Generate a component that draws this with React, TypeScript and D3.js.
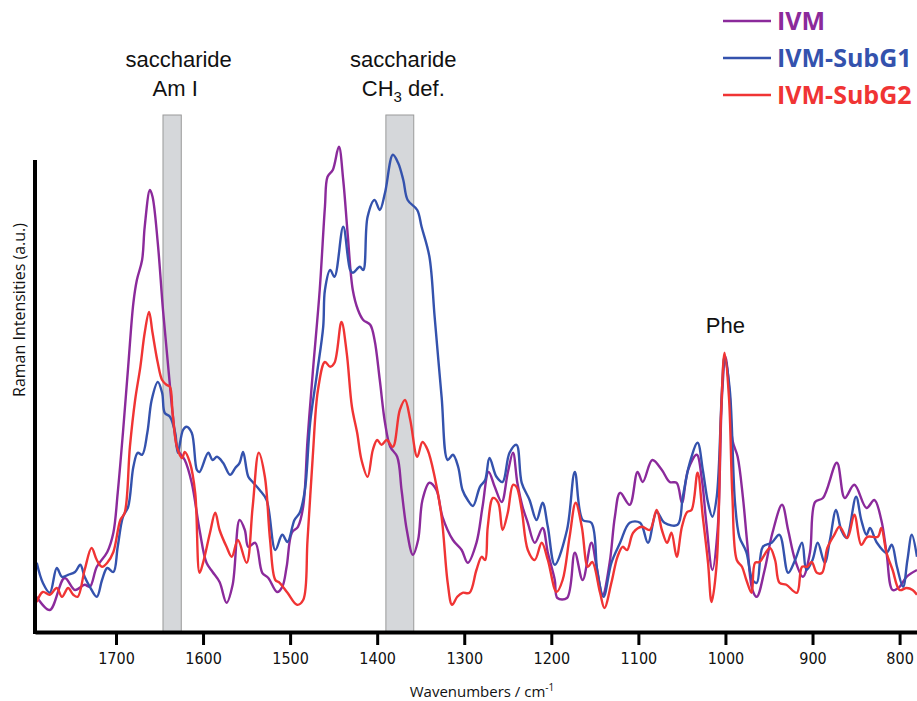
import React, { useRef, useEffect } from 'react'
import * as d3 from 'd3'

// wavenumber ticks (cm-1)
const xTicks = [1700, 1600, 1500, 1400, 1300, 1200, 1100, 1000, 900, 800]

// shaded saccharide bands [from, to] cm-1
const bands: [number, number][] = [
  [1646, 1625],
  [1390, 1358],
]

// [wavenumber, intensity a.u.]
const ivm: [number, number][] = [
  [1791, 8.8], [1776, 5.5], [1759, 13.5], [1747, 10.5], [1736, 11.8], [1730, 11.3],
  [1722, 16.3], [1710, 20], [1703, 24.8], [1698, 34.8], [1692, 49.8], [1686, 66.3],
  [1680, 82.3], [1676, 88], [1670, 93], [1667, 101.3], [1661, 110.5], [1658, 108.8],
  [1652, 97.3], [1646, 80.5], [1640, 66.3], [1635, 54.8], [1630, 46.3], [1627, 44.8],
  [1621, 43], [1613, 37.3], [1604, 25.5], [1596, 17.3], [1589, 15], [1581, 12.5],
  [1573, 7.3], [1566, 11.8], [1558, 28], [1552, 25.5], [1548, 21.3], [1540, 22.3],
  [1532, 14.8], [1525, 13.5], [1515, 10], [1509, 11.3], [1504, 16.3], [1498, 24.8],
  [1491, 26.3], [1485, 31.3], [1480, 48], [1474, 64.8], [1466, 85.5], [1460, 106.3],
  [1457, 113.8], [1451, 115.5], [1444, 121.3], [1439, 113], [1434, 99.8], [1428, 85.5],
  [1422, 80.5], [1416, 78], [1408, 76.8], [1403, 73], [1397, 63], [1391, 52.3],
  [1385, 46.3], [1377, 43.8], [1372, 35.5], [1366, 25.5], [1359, 19.3], [1353, 23],
  [1348, 33], [1340, 37.3], [1332, 35.5], [1325, 28.8], [1313, 23], [1303, 20.5],
  [1296, 17.3], [1286, 22.3], [1279, 31.3], [1272, 40], [1265, 36.3], [1257, 32.5],
  [1250, 39.8], [1244, 44.8], [1239, 37.3], [1233, 31.3], [1227, 27.3], [1219, 22.3],
  [1210, 26], [1204, 19.8], [1196, 13], [1193, 8.5], [1182, 8.5], [1173, 19.8],
  [1164, 13], [1154, 22.3], [1148, 16.3], [1141, 9.3], [1133, 17.3], [1127, 28.8],
  [1121, 34.8], [1110, 31.8], [1101, 40], [1095, 37.5], [1084, 43], [1073, 40.5],
  [1064, 37.5], [1056, 37.3], [1050, 32.3], [1043, 40.5], [1033, 44.3], [1027, 38],
  [1022, 27.3], [1015, 15.5], [1009, 25.5], [1004, 58.8], [1000, 68.8], [995, 58.8],
  [992, 48], [986, 43.8], [980, 33.8], [975, 22.3], [969, 10.5], [964, 8.8],
  [955, 15.5], [946, 24.8], [935, 31.8], [928, 25.5], [920, 18], [911, 13.8],
  [903, 19.8], [897, 32.5], [888, 33.5], [872, 42.3], [863, 33.5], [852, 36.8],
  [838, 31], [829, 33], [821, 28], [815, 19.8], [808, 10.5], [800, 11.3],
  [792, 13.8], [780, 15.5],
]

const ivmSubG1: [number, number][] = [
  [1791, 17.3], [1784, 12.3], [1776, 9.8], [1768, 16], [1762, 13.8], [1755, 14.3],
  [1747, 15], [1741, 16.8], [1736, 13.8], [1730, 11.3], [1722, 8.8], [1716, 13],
  [1710, 16], [1703, 15], [1698, 21.3], [1692, 28.8], [1686, 31.3], [1680, 41.3],
  [1675, 44.8], [1670, 44.3], [1664, 49.8], [1659, 58], [1652, 62.5], [1647, 59.8],
  [1644, 54.8], [1638, 53.8], [1632, 49.8], [1629, 44.8], [1623, 50.5], [1619, 51.3],
  [1613, 49.8], [1607, 40.5], [1604, 40], [1594, 44.8], [1589, 43], [1584, 43.8],
  [1577, 42.3], [1569, 39.3], [1563, 41], [1558, 42.3], [1554, 45], [1548, 38.8],
  [1543, 37.5], [1535, 35.5], [1527, 33], [1517, 20.5], [1509, 24.3], [1503, 22.5],
  [1495, 28], [1489, 29.8], [1483, 35.5], [1477, 52.3], [1469, 64.8], [1462, 76.3],
  [1460, 85.5], [1454, 90.5], [1449, 88.8], [1439, 101.3], [1431, 90.5], [1428, 89.8],
  [1420, 91.3], [1416, 90.5], [1411, 103.8], [1403, 108], [1397, 105.5], [1391, 109.8],
  [1382, 119.3], [1376, 117.3], [1370, 113], [1365, 108], [1354, 105.5], [1349, 101.3],
  [1340, 93.8], [1334, 78.8], [1326, 58.8], [1319, 43], [1313, 44.3], [1307, 41.3],
  [1302, 35.5], [1296, 33], [1290, 31.5], [1282, 36.3], [1276, 38], [1271, 43.5],
  [1263, 38.8], [1256, 37.5], [1248, 44.8], [1240, 46.8], [1234, 37.3], [1225, 33],
  [1217, 28], [1210, 32.3], [1204, 26.3], [1196, 16.8], [1182, 25.5], [1173, 40],
  [1164, 28], [1154, 27.3], [1147, 14.8], [1140, 8.8], [1131, 17.3], [1121, 22.3],
  [1110, 27.3], [1098, 27.3], [1089, 22.3], [1079, 30], [1070, 27.3], [1055, 26.8],
  [1049, 33.8], [1041, 42.3], [1032, 47.3], [1026, 40.5], [1020, 32.3], [1015, 28.8],
  [1010, 33.8], [1004, 60.5], [1001, 68.8], [995, 60.5], [989, 32.3], [984, 23.8],
  [976, 20], [969, 13], [964, 12.3], [957, 21.3], [947, 22.3], [938, 24.3],
  [928, 14.8], [920, 18], [912, 22.3], [907, 15.5], [900, 18], [894, 22.3],
  [886, 17.3], [880, 23], [873, 30.5], [867, 25.5], [861, 23.5], [850, 33.8],
  [844, 28], [838, 24.3], [834, 26], [826, 22.3], [815, 19.8], [809, 21.8],
  [803, 16.3], [796, 11.3], [791, 18], [786, 24.3], [780, 18.8],
]

const ivmSubG2: [number, number][] = [
  [1791, 7.5], [1784, 10], [1776, 9.3], [1768, 11], [1762, 8.8], [1755, 11],
  [1749, 9.3], [1744, 8.8], [1736, 15.5], [1728, 21], [1722, 18], [1716, 16.3],
  [1710, 17.3], [1703, 20], [1695, 28], [1690, 29.8], [1684, 46.3], [1678, 58],
  [1672, 66.3], [1667, 74.8], [1662, 80], [1658, 74.8], [1652, 67.3], [1647, 63],
  [1642, 61.8], [1638, 61.3], [1635, 54.8], [1630, 46.3], [1624, 43.5], [1621, 45],
  [1615, 42.3], [1609, 34.8], [1604, 14.8], [1600, 17.3], [1592, 24.8], [1586, 29.8],
  [1581, 25.5], [1573, 21.3], [1567, 18.8], [1560, 23], [1550, 17.3], [1543, 31.3],
  [1536, 44.8], [1529, 38.8], [1523, 23], [1517, 13], [1512, 12.3], [1503, 9.8],
  [1492, 6.8], [1485, 8], [1480, 23], [1474, 43.8], [1468, 60.5], [1460, 67.5],
  [1454, 66.3], [1449, 67.3], [1441, 77.5], [1435, 69.8], [1429, 56.3], [1423, 49.8],
  [1418, 43], [1411, 38.8], [1405, 45.5], [1400, 48], [1395, 46.8], [1389, 48],
  [1382, 46.3], [1374, 55.5], [1368, 58], [1362, 53], [1354, 43.8], [1348, 47.5],
  [1342, 45.5], [1334, 38.8], [1326, 28.8], [1319, 12.3], [1314, 6.8], [1308, 8.8],
  [1302, 9.8], [1294, 9.8], [1286, 15.5], [1280, 18.8], [1276, 18], [1273, 26.3],
  [1267, 33.5], [1261, 32.3], [1256, 25.5], [1250, 29.8], [1244, 36.8], [1240, 36.3],
  [1234, 30.5], [1227, 20.5], [1219, 18], [1211, 22.3], [1204, 18], [1194, 10],
  [1187, 13], [1179, 23.8], [1172, 32.3], [1165, 26.3], [1158, 16.3], [1153, 17.5],
  [1144, 9.8], [1139, 6], [1131, 12.3], [1124, 18.8], [1118, 21.3], [1113, 20.5],
  [1106, 24.8], [1096, 26.3], [1087, 25.5], [1079, 30.5], [1073, 25.5], [1067, 22.3],
  [1062, 24.8], [1056, 18.8], [1050, 26.3], [1044, 30], [1039, 30.5], [1032, 39.8],
  [1026, 28.8], [1020, 17.3], [1016, 7.5], [1010, 17.3], [1005, 54.8], [1001, 69.8],
  [996, 58.8], [992, 33.8], [987, 18], [981, 16.3], [976, 13], [970, 9.8],
  [966, 17.3], [961, 17.5], [949, 21], [943, 18], [938, 12.3], [930, 11.8],
  [918, 9.8], [912, 16.3], [906, 16.3], [901, 17.5], [895, 14.8], [889, 14.8],
  [883, 21], [875, 24.3], [869, 26.3], [860, 23.5], [852, 29.3], [844, 21.8],
  [837, 23.8], [825, 23.8], [821, 26], [815, 19.8], [808, 15.5], [800, 10.5],
  [792, 11], [785, 10.5], [780, 9.3],
]

const seriesNames = ['IVM', 'IVM-SubG1', 'IVM-SubG2']
const seriesData = [ivm, ivmSubG1, ivmSubG2]
const seriesColors = ['#8b2a9b', '#3452ad', '#f03434']

const W = 917
const H = 701
const margin = { top: 160, right: 0, bottom: 69, left: 35 }

const Chart: React.FC = () => {
  const ref = useRef<SVGSVGElement>(null)

  useEffect(() => {
    const svg = d3.select(ref.current)
    svg.selectAll('*').remove()

    const x = d3
      .scaleLinear()
      .domain([1793, 780])
      .range([margin.left, W - margin.right])
    const y = d3
      .scaleLinear()
      .domain([0, 118])
      .range([H - margin.bottom, margin.top])

    const baseY = H - margin.bottom

    // shaded bands
    svg
      .append('g')
      .selectAll('rect')
      .data(bands)
      .enter()
      .append('rect')
      .attr('x', (d) => x(d[0]))
      .attr('width', (d) => x(d[1]) - x(d[0]))
      .attr('y', 115)
      .attr('height', baseY - 115)
      .attr('fill', '#d5d7da')
      .attr('stroke', '#9a9a9a')
      .attr('stroke-width', 1)

    // spectra
    const line = d3
      .line<[number, number]>()
      .x((d) => x(d[0]))
      .y((d) => y(d[1]))
      .curve(d3.curveCatmullRom.alpha(0.5))

    svg
      .append('g')
      .selectAll('path')
      .data(seriesData)
      .enter()
      .append('path')
      .attr('d', (d) => line(d))
      .attr('fill', 'none')
      .attr('stroke', (d, i) => seriesColors[i])
      .attr('stroke-width', 2.4)
      .attr('stroke-linejoin', 'round')

    // x axis
    const xAxis = svg
      .append('g')
      .attr('transform', `translate(0, ${baseY})`)
      .call(
        d3
          .axisBottom(x)
          .tickValues(xTicks)
          .tickFormat(d3.format('d'))
          .tickSize(13)
          .tickSizeOuter(0)
          .tickPadding(8),
      )
    xAxis.select('.domain').attr('stroke', '#000').attr('stroke-width', 4)
    xAxis.selectAll('.tick line').attr('stroke', '#000').attr('stroke-width', 3)
    xAxis
      .selectAll('.tick text')
      .attr('fill', '#111')
      .style('font-family', '"Liberation Sans Narrow", "DejaVu Sans Condensed", Arial, sans-serif')
      .style('font-size', '16px')

    // y axis line
    svg
      .append('line')
      .attr('x1', margin.left)
      .attr('x2', margin.left)
      .attr('y1', margin.top)
      .attr('y2', baseY + 2)
      .attr('stroke', '#000')
      .attr('stroke-width', 4)

    // axis titles
    const xt = svg
      .append('text')
      .attr('x', 482)
      .attr('y', 697)
      .attr('text-anchor', 'middle')
      .style('font-family', '"Open Sans", sans-serif')
      .style('font-size', '15px')
      .attr('fill', '#111')
    xt.append('tspan').text('Wavenumbers / cm')
    xt.append('tspan').attr('dy', -6).style('font-size', '10px').text('-1')

    svg
      .append('text')
      .attr('transform', `translate(25, 310) rotate(-90)`)
      .attr('text-anchor', 'middle')
      .style('font-family', '"Open Sans", sans-serif')
      .style('font-size', '16px')
      .attr('fill', '#111')
      .text('Raman Intensities (a.u.)')

    // band / peak labels
    const annot = svg
      .append('g')
      .style('font-family', '"Liberation Sans", Arial, sans-serif')
      .style('font-size', '22px')
      .attr('fill', '#111')
      .attr('text-anchor', 'middle')
    annot.append('text').attr('x', x(1628)).attr('y', 67).text('saccharide')
    annot.append('text').attr('x', x(1632)).attr('y', 96).text('Am I')
    annot.append('text').attr('x', x(1370)).attr('y', 67).text('saccharide')
    const ch3 = annot.append('text').attr('x', x(1370)).attr('y', 96)
    ch3.append('tspan').text('CH')
    ch3.append('tspan').attr('dy', 6).style('font-size', '15px').text('3')
    ch3.append('tspan').attr('dy', -6).text(' def.')
    annot.append('text').attr('x', x(1000)).attr('y', 333).text('Phe')

    // legend
    const legend = svg
      .append('g')
      .selectAll('g')
      .data(seriesNames)
      .enter()
      .append('g')
      .attr('transform', (d, i) => `translate(723, ${21 + i * 37})`)
    legend
      .append('line')
      .attr('x1', 0)
      .attr('x2', 48)
      .attr('stroke', (d, i) => seriesColors[i])
      .attr('stroke-width', 2.5)
    legend
      .append('text')
      .attr('x', 54)
      .attr('dy', '0.36em')
      .attr('fill', (d, i) => seriesColors[i])
      .style('font-family', '"Open Sans", sans-serif')
      .style('font-weight', 700)
      .style('font-size', '25px')
      .text((d) => d)
  }, [])

  return (
    <svg
      ref={ref}
      width={W}
      height={H}
      style={{ position: 'absolute', left: 0, top: 0, background: '#fff' }}
    />
  )
}

export default function App() {
  return <Chart />
}
